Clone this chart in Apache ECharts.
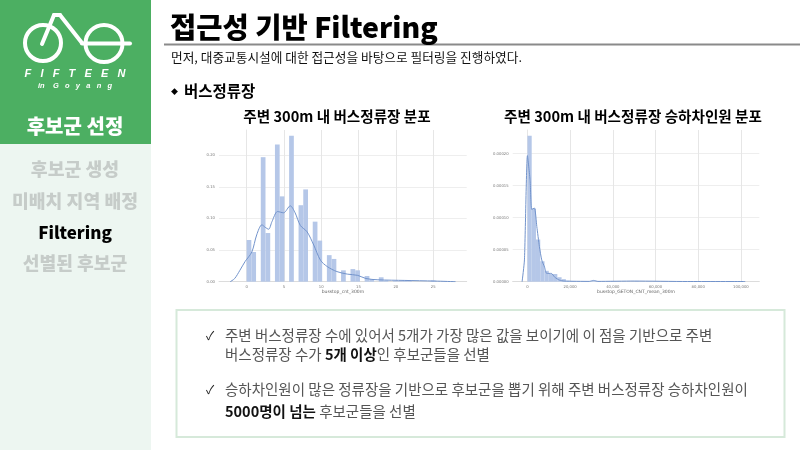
<!DOCTYPE html>
<html>
<head>
<meta charset="utf-8">
<title>접근성 기반 Filtering</title>
<script src="https://cdn.jsdelivr.net/npm/echarts@6/dist/echarts.min.js"></script>
<style>
    html, body { margin: 0; padding: 0; background: #fff; }
    #chart { width: 800px; height: 450px; }
</style>
</head>
<body>
<div id="chart"></div>
<script>
var FONT = '"Noto Sans CJK KR", "Noto Sans", sans-serif';

// 왼쪽 히스토그램: 주변 버스정류장 수
var cntBinWidth = 0.633;
var cntBins = [0.066, 0.047, 0, 0.197, 0.077, 0, 0.217, 0.135, 0, 0.231, 0, 0.121, 0.146, 0, 0.095, 0.065, 0,
    0.042, 0.036, 0, 0.018, 0, 0.020, 0.018, 0, 0.009, 0.004, 0, 0.007, 0.002, 0, 0.001, 0.001, 0.002, 0.001, 0, 0, 0, 0, 0.002];
var cntKde = [[-2.2, 0], [-1.6, 0.005], [-0.9, 0.018], [-0.2, 0.032], [0.7, 0.047], [1.35, 0.074], [2.05, 0.090],
    [2.5, 0.086], [2.95, 0.083], [3.4, 0.095], [4.15, 0.111], [4.95, 0.109], [5.85, 0.120], [6.5, 0.109], [7.2, 0.089],
    [8.1, 0.079], [9, 0.058], [9.9, 0.034], [10.8, 0.024], [12.1, 0.016], [13.5, 0.012], [14.9, 0.010], [16, 0.005],
    [17.6, 0.003], [21.2, 0.002], [25.2, 0.001], [28, 0]];
var cntXTicks = [0, 5, 10, 15, 20, 25];
var cntYTicks = [0, 0.05, 0.10, 0.15, 0.20];

// 오른쪽 히스토그램: 주변 버스정류장 승하차인원
var getonBinWidth = 2000;
var getonBins = [22.8e-5, 11.4e-5, 6.6e-5, 3.2e-5, 1.7e-5, 1.2e-5, 1.2e-5, 0.7e-5, 0.4e-5, 0.15e-5, 0.1e-5, 0.05e-5,
    0.03e-5, 0.03e-5, 0.05e-5, 0.15e-5, 0.05e-5, 0, 0, 0.05e-5, 0, 0, 0, 0, 0, 0.05e-5];
var getonKde = [[-2500, 0], [-1400, 3.4e-5], [0, 19.7e-5], [1250, 15.8e-5], [2000, 11.3e-5], [3300, 11.5e-5], [4400, 8.6e-5],
    [5600, 5.5e-5], [6700, 3.4e-5], [8000, 2.3e-5], [9000, 1.3e-5], [11200, 1.3e-5], [12800, 0.7e-5], [15000, 0.25e-5],
    [17200, 0.1e-5], [29000, 0.05e-5], [31000, 0.2e-5], [33000, 0.05e-5], [50000, 0.1e-5], [75000, 0.03e-5], [102000, 0.03e-5]];
var getonXTicks = [0, 20000, 40000, 60000, 80000, 100000];
var getonYTicks = [0, 0.00005, 0.0001, 0.00015, 0.0002];

// 슬라이드 텍스트
var menuItems = ['후보군 생성', '미배치 지역 배정', 'Filtering', '선별된 후보군'];

function binData(bins, width) {
    return bins.map(function(h, i) { return [i * width, (i + 1) * width, h]; });
}

function renderBin(params, api) {
    var a = api.coord([api.value(0), api.value(2)]);
    var b = api.coord([api.value(1), 0]);
    return {
        type: 'rect',
        shape: { x: a[0], y: a[1], width: b[0] - a[0], height: b[1] - a[1] },
        style: { fill: '#b5c7e8' }
    };
}

function makeXAxis(index, min, max, ticks, name) {
    return {
        type: 'value', gridIndex: index, min: min, max: max,
        name: name, nameLocation: 'middle', nameGap: 8,
        nameTextStyle: { fontSize: 4.5, color: '#666', fontFamily: 'DejaVu Sans' },
        axisLine: { lineStyle: { color: '#dcdcdc', width: 1 } },
        axisTick: { show: false, customValues: ticks },
        axisLabel: { customValues: ticks, fontSize: 3.8, margin: 3, color: '#777', fontFamily: 'DejaVu Sans' },
        splitLine: { show: true, lineStyle: { color: '#e6e6e6', width: 1 } }
    };
}

function makeYAxis(index, max, ticks, digits) {
    return {
        type: 'value', gridIndex: index, min: 0, max: max,
        axisLine: { show: true, lineStyle: { color: '#e6e6e6', width: 1 } },
        axisTick: { show: false, customValues: ticks },
        axisLabel: {
            customValues: ticks, fontSize: 3.8, margin: 4, color: '#777', fontFamily: 'DejaVu Sans',
            formatter: function(v) { return v.toFixed(digits); }
        },
        splitLine: { show: true, lineStyle: { color: '#eeeeee', width: 1 } }
    };
}

function text(x, y, str, size, color, weight, align, extra) {
    var style = { x: x, y: y, text: str, fontSize: size, fill: color, fontWeight: weight || 'normal',
        fontFamily: FONT, align: align || 'left', verticalAlign: 'middle' };
    for (var k in extra) style[k] = extra[k];
    return { type: 'text', z: 10, style: style };
}

function logoLine(x1, y1, x2, y2) {
    return { type: 'line', z: 10, shape: { x1: x1, y1: y1, x2: x2, y2: y2 },
        style: { stroke: '#fff', lineWidth: 4, lineCap: 'round' } };
}

function logoRing(cx, cy, r) {
    return { type: 'circle', z: 10, shape: { cx: cx, cy: cy, r: r },
        style: { fill: 'none', stroke: '#fff', lineWidth: 4 } };
}

var richBox = {
    b: { fontSize: 14.5, fontWeight: 'bold', fill: '#111', fontFamily: FONT },
    n: { fontSize: 14.5, fill: '#555', fontFamily: FONT }
};

var slide = [
    // 사이드바
    { type: 'rect', z: 1, shape: { x: 0, y: 0, width: 151, height: 450 }, style: { fill: '#edf6f1' } },
    { type: 'rect', z: 2, shape: { x: 0, y: 0, width: 151, height: 144 }, style: { fill: '#4caf62' } },
    logoRing(43, 43, 18), logoRing(104, 43.5, 18.5),
    logoLine(82, 43.5, 130, 43.5), logoLine(42, 44, 54, 15), logoLine(54, 15, 60, 15), logoLine(60, 15, 82, 43),
    text(75, 74, 'F   I   F   T   E   E   N', 11, '#fff', 'bold', 'center', { fontStyle: 'italic', fontFamily: 'Liberation Sans' }),
    text(75, 86, 'in    G   o   y   a   n   g', 7.5, '#fff', 'bold', 'center', { fontStyle: 'italic', fontFamily: 'Liberation Sans' }),
    text(75, 126, '후보군 선정', 20, '#fff', 900, 'center'),
    text(75, 169, menuItems[0], 18.3, '#c6ccc9', 900, 'center'),
    text(75, 201, menuItems[1], 18.3, '#c6ccc9', 900, 'center'),
    text(75, 233, menuItems[2], 17, '#000', 900, 'center'),
    text(75, 263, menuItems[3], 18.2, '#c6ccc9', 900, 'center'),
    // 제목
    text(170, 27, '접근성 기반 Filtering', 28.5, '#000', 900),
    { type: 'line', z: 5, shape: { x1: 164, y1: 44.5, x2: 800, y2: 44.5 }, style: { stroke: '#8a8a8a', lineWidth: 2 } },
    text(171, 57, '먼저, 대중교통시설에 대한 접근성을 바탕으로 필터링을 진행하였다.', 12.7, '#111'),
    text(171, 91, '◆', 7, '#000', 'bold'),
    text(184, 91, '버스정류장', 15.5, '#000', 'bold'),
    text(337, 116, '주변 300m 내 버스정류장 분포', 14.6, '#000', 'bold', 'center'),
    text(633, 116, '주변 300m 내 버스정류장 승하차인원 분포', 14.6, '#000', 'bold', 'center'),
    // 설명 박스
    { type: 'rect', z: 5, shape: { x: 176.5, y: 310, width: 608, height: 127 },
        style: { fill: '#fff', stroke: '#d6e9da', lineWidth: 2 } },
    text(206, 335, '✓', 12, '#222'),
    text(225, 335, '주변 버스정류장 수에 있어서 5개가 가장 많은 값을 보이기에 이 점을 기반으로 주변', 14.5, '#555'),
    text(225, 354, '{n|버스정류장 수가 }{b|5개 이상}{n|인 후보군들을 선별}', 14.5, '#555', 'normal', 'left', { rich: richBox }),
    text(206, 389, '✓', 12, '#222'),
    text(225, 389, '승하차인원이 많은 정류장을 기반으로 후보군을 뽑기 위해 주변 버스정류장 승하차인원이', 14.5, '#555'),
    text(225, 411, '{b|5000명이 넘는 }{n|후보군들을 선별}', 14.5, '#555', 'normal', 'left', { rich: richBox })
];

var chart = echarts.init(document.getElementById('chart'), null, { renderer: 'canvas' });

var option = {
    animation: false,
    backgroundColor: '#fff',
    graphic: { elements: slide },
    grid: [
        { left: 219, width: 247.7, top: 130, height: 151.7 },
        { left: 512.7, width: 246.6, top: 130, height: 151.7 }
    ],
    xAxis: [
        makeXAxis(0, -3.7, 29.5, cntXTicks, 'busstop_cnt_300m'),
        makeXAxis(1, -6900, 108600, getonXTicks, 'busstop_GETON_CNT_mean_300m')
    ],
    yAxis: [
        makeYAxis(0, 0.24, cntYTicks, 2),
        makeYAxis(1, 0.000237, getonYTicks, 5)
    ],
    series: [
        { type: 'custom', xAxisIndex: 0, yAxisIndex: 0, renderItem: renderBin, data: binData(cntBins, cntBinWidth), encode: { x: [0, 1], y: 2 } },
        { type: 'line', xAxisIndex: 0, yAxisIndex: 0, data: cntKde, smooth: 0.3, showSymbol: false, lineStyle: { color: '#7293cb', width: 1 } },
        { type: 'custom', xAxisIndex: 1, yAxisIndex: 1, renderItem: renderBin, data: binData(getonBins, getonBinWidth), encode: { x: [0, 1], y: 2 } },
        { type: 'line', xAxisIndex: 1, yAxisIndex: 1, data: getonKde, smooth: 0.2, showSymbol: false, lineStyle: { color: '#7293cb', width: 1 } }
    ]
};

chart.setOption(option);
</script>
</body>
</html>
